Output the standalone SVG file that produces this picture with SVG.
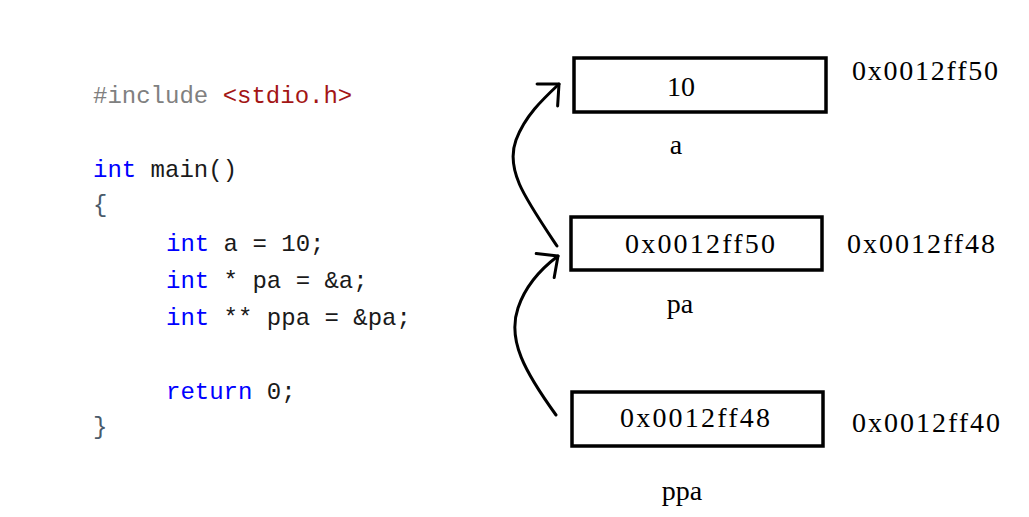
<svg xmlns="http://www.w3.org/2000/svg" width="1029" height="517" viewBox="0 0 1029 517">
<style>
.code{font-family:"Liberation Mono","DejaVu Sans Mono",monospace;font-size:24px;fill:#1a1a1a}
.kw{fill:#0000ff}
.pp{fill:#808080}
.str{fill:#a31515}
.br{fill:#4a5a6a}
.box{fill:#ffffff;stroke:#000;stroke-width:3.5}
.val{font-family:"Liberation Serif","DejaVu Serif",serif;font-size:28px;fill:#000}
.lbl{font-family:"Liberation Serif","DejaVu Serif",serif;font-size:28px;fill:#000}
.conn{fill:none;stroke:#000;stroke-width:3;stroke-linecap:round}
</style>
<defs>
<marker id="ah" markerUnits="userSpaceOnUse" markerWidth="40" markerHeight="40" refX="0" refY="0" viewBox="-25 -20 30 40" orient="auto" overflow="visible">
<path d="M-16,-15 L0,0 L-16,15" fill="none" stroke="#000" stroke-width="3" stroke-linecap="round" stroke-linejoin="round"/>
</marker>
</defs>
<rect width="1029" height="517" fill="#ffffff"/>
<g id="code">
<text class="code" x="93" y="103"><tspan class="pp">#include</tspan> <tspan class="str">&lt;stdio.h&gt;</tspan></text>
<text class="code" x="93" y="177"><tspan class="kw">int</tspan> main()</text>
<text class="code br" x="93" y="212">{</text>
<text class="code" x="166" y="251"><tspan class="kw">int</tspan> a = 10;</text>
<text class="code" x="166" y="288"><tspan class="kw">int</tspan> * pa = &amp;a;</text>
<text class="code" x="166" y="325"><tspan class="kw">int</tspan> ** ppa = &amp;pa;</text>
<text class="code" x="166" y="399"><tspan class="kw">return</tspan> 0;</text>
<text class="code br" x="93" y="434">}</text>
</g>
<g id="node-a">
<rect class="box" x="574" y="58" width="252" height="54"/>
<text class="val" x="681" y="96" text-anchor="middle">10</text>
<text class="lbl" x="676" y="154" text-anchor="middle">a</text>
<text class="lbl" x="852" y="80" textLength="146" lengthAdjust="spacing">0x0012ff50</text>
</g>
<g id="node-pa">
<rect class="box" x="571" y="217" width="251" height="53"/>
<text class="val" x="625" y="253" textLength="150" lengthAdjust="spacing">0x0012ff50</text>
<text class="lbl" x="680" y="313" text-anchor="middle">pa</text>
<text class="lbl" x="847" y="253" textLength="148" lengthAdjust="spacing">0x0012ff48</text>
</g>
<g id="node-ppa">
<rect class="box" x="572" y="392" width="251" height="54"/>
<text class="val" x="620" y="427" textLength="150" lengthAdjust="spacing">0x0012ff48</text>
<text class="lbl" x="682" y="500" text-anchor="middle">ppa</text>
<text class="lbl" x="852" y="432" textLength="148" lengthAdjust="spacing">0x0012ff40</text>
</g>
<g id="connectors">
<path class="conn" d="M557,246 C525,198 505,170 516,140 C525,116 542,100 559,84" marker-end="url(#ah)"/>
<path class="conn" d="M556,415 C525,372 507,340 518,308 C526,284 542,268 558,256" marker-end="url(#ah)"/>
</g>
</svg>
